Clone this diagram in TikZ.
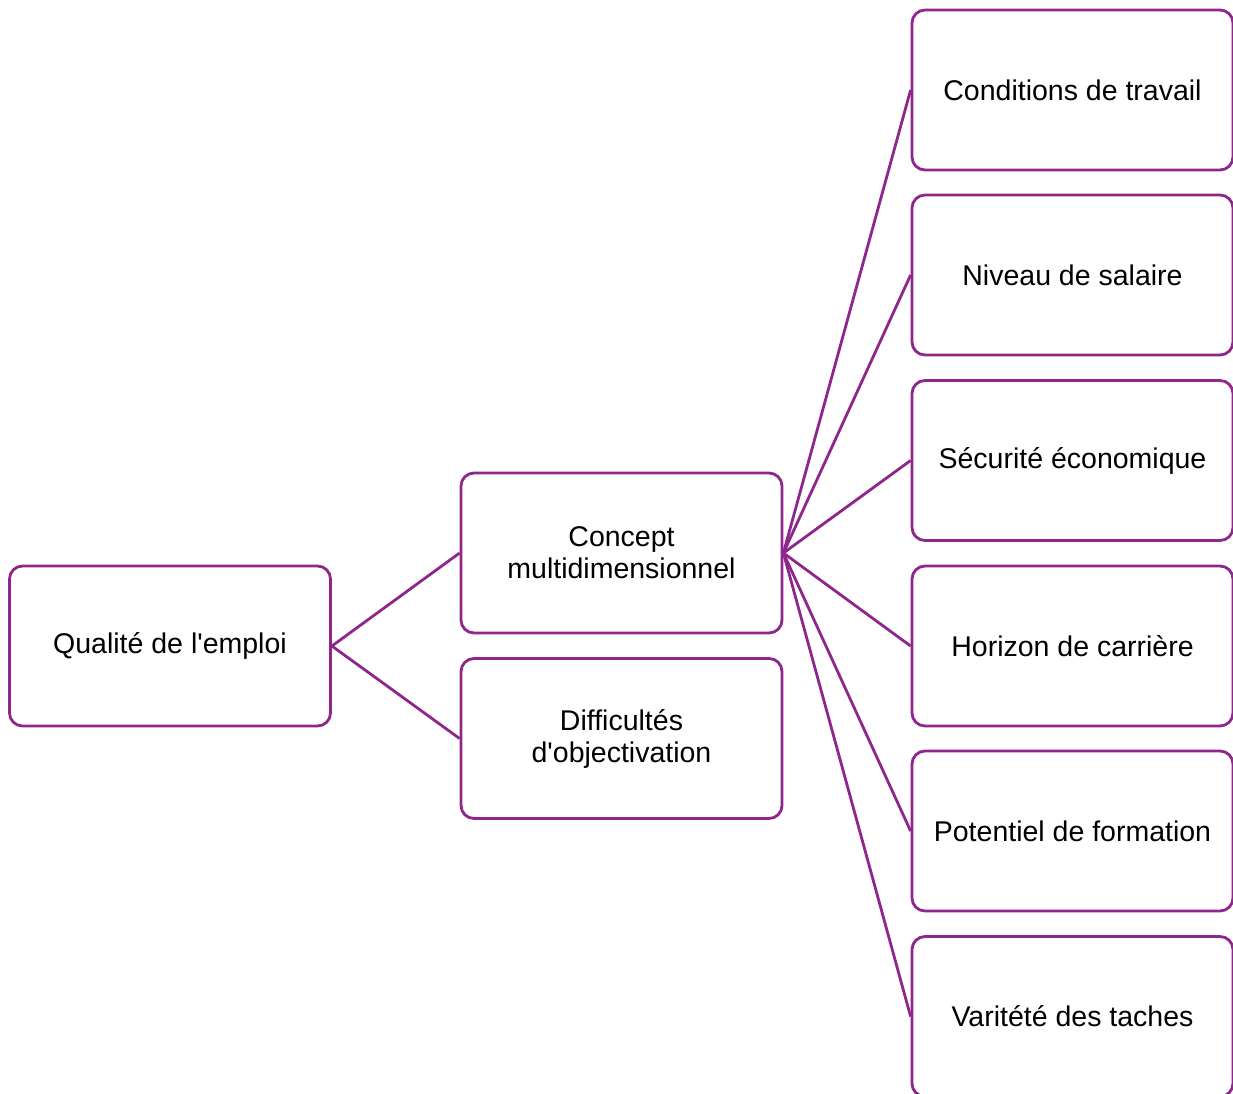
\documentclass[tikz,border=0pt]{standalone}
\usepackage{fontspec}
\setmainfont{Liberation Sans}
\definecolor{pl}{RGB}{142,38,140}
\begin{document}
\begin{tikzpicture}[x=1pt,y=-1pt,
  box/.style={draw=pl,line width=2.8pt,rounded corners=13pt,minimum width=321pt,minimum height=160pt,align=center,inner sep=0pt,font=\fontsize{28.5}{32}\selectfont,text=black},
  conn/.style={draw=pl,line width=2.8pt}]
\useasboundingbox (0,0) rectangle (1233,1093);
\clip (0,0) rectangle (1233,1093);
\node[box] (q) at (170,646) {Qualité de l\textquotesingle emploi};
\node[box] (c) at (621.5,553) {Concept\\multidimensionnel};
\node[box] (d) at (621.5,738.5) {Difficultés\\d\textquotesingle objectivation};
\node[box] (r1) at (1072.5,90) {Conditions de travail};
\node[box] (r2) at (1072.5,275) {Niveau de salaire};
\node[box] (r3) at (1072.5,460.5) {Sécurité économique};
\node[box] (r4) at (1072.5,646) {Horizon de carrière};
\node[box] (r5) at (1072.5,831) {Potentiel de formation};
\node[box] (r6) at (1072.5,1016.5) {Varitété des taches};
\draw[conn] (q.east) -- (c.west);
\draw[conn] (q.east) -- (d.west);
\foreach \i in {1,...,6} {\draw[conn] (c.east) -- (r\i.west);}
\end{tikzpicture}
\end{document}
